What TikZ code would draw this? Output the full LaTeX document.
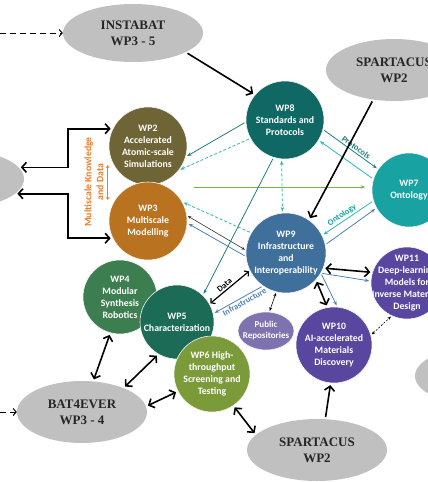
\documentclass[tikz,border=0pt]{standalone}
\usepackage{fontspec}
\newfontfamily\calibri{Carlito}
\newfontfamily\partnerfont{Liberation Serif}
\usetikzlibrary{shapes.geometric, arrows.meta, calc}
\definecolor{partnergray}{HTML}{C0C0C0}
\definecolor{wpii}{HTML}{6E6436}
\definecolor{wpiii}{HTML}{B9721F}
\definecolor{wpiv}{HTML}{3D7E50}
\definecolor{wpv}{HTML}{1C6B57}
\definecolor{wpvi}{HTML}{7B9B3B}
\definecolor{wpvii}{HTML}{18A2A2}
\definecolor{wpviii}{HTML}{0F6864}
\definecolor{wpix}{HTML}{3F6F9B}
\definecolor{wpx}{HTML}{58469F}
\definecolor{pubrep}{HTML}{7F73AF}
\definecolor{lineteal}{HTML}{217D7A}
\definecolor{lightteal}{HTML}{2DB5B3}
\definecolor{linegreen}{HTML}{78B440}
\definecolor{lineblue}{HTML}{4F80B5}
\definecolor{kdorange}{HTML}{EE7A22}
\begin{document}
\begin{tikzpicture}[x=1pt, y=-1pt,
    wp/.style={circle, fill=#1, draw=white!90!gray, line width=0.6pt, text=white, inner sep=-6pt,
        minimum size=78pt, align=center, font=\calibri\bfseries\fontsize{9.8}{12}\selectfont},
    partner/.style={ellipse, fill=partnergray, text=black!85, inner sep=0pt, align=center,
        font=\partnerfont\bfseries\fontsize{13}{16}\selectfont},
    lbl/.style={font=\calibri\bfseries\fontsize{8.5}{10}\selectfont, inner sep=1.5pt},
    bigarrow/.style={line width=1.6pt, -{Straight Barb[length=4.5pt,width=10pt]}, shorten <=2pt, shorten >=2pt},
    bigboth/.style={bigarrow, {Straight Barb[length=4.5pt,width=10pt]}-{Straight Barb[length=4.5pt,width=10pt]}},
    flow/.style={line width=0.8pt, -{Stealth[length=4.5pt,width=3.5pt]}, shorten <=1.5pt, shorten >=1.5pt},
    flowdash/.style={flow, dash pattern=on 3pt off 2pt},
    thinboth/.style={line width=0.6pt, {Stealth[length=3.5pt,width=3pt]}-{Stealth[length=3.5pt,width=3pt]}, shorten <=1pt, shorten >=1pt},
    feed/.style={line width=1pt, dash pattern=on 6pt off 4pt, -{Straight Barb[length=3pt,width=7pt]}}
]
    \useasboundingbox (0,0) rectangle (428,482);
    \clip (0,0) rectangle (428,482);

    \node[partner, minimum width=140pt, minimum height=58pt] (instabat) at (133,33) {INSTABAT\\WP3 - 5};
    \node[partner, minimum width=136pt, minimum height=62pt] (spartop) at (394,70) {SPARTACUS\\WP2};
    \node[partner, minimum width=120pt, minimum height=56pt] (leftpart) at (-36,179) {};
    \node[partner, minimum width=130pt, minimum height=62pt] (bat4ever) at (82,412) {BAT4EVER\\WP3 - 4};
    \node[partner, minimum width=140pt, minimum height=62pt] (spartbot) at (317,450) {SPARTACUS\\WP2};
    \node[partner, minimum width=120pt, minimum height=56pt] (rightpart) at (475,376) {};

    \node[wp=wpii] (wp2) at (148,146) {WP2\\Accelerated\\Atomic-scale\\Simulations};
    \node[wp=wpiii] (wp3) at (148,221) {WP3\\Multiscale\\Modelling};
    \node[wp=wpiv, minimum size=74pt] (wp4) at (120,297) {WP4\\Modular\\Synthesis\\Robotics};
    \node[wp=wpv, minimum size=74pt] (wp5) at (177,322) {WP5\\Characterization};
    \node[wp=wpvi, minimum size=76pt] (wp6) at (212,374) {WP6 High-\\throughput\\Screening and\\Testing};
    \node[wp=wpvii, minimum size=74pt] (wp7) at (409,190) {WP7\\Ontology};
    \node[wp=wpviii] (wp8) at (285,120) {WP8\\Standards and\\Protocols};
    \node[wp=wpix, minimum size=80pt] (wp9) at (286,253) {WP9\\Infrastructure\\and\\Interoperability};
    \node[wp=wpx, minimum size=76pt] (wp10) at (334,345) {WP10\\AI-accelerated\\Materials\\Discovery};
    \node[wp=wpx, minimum size=72pt, inner sep=-10pt] (wp11) at (407,283) {WP11\\Deep-learning\\Models for\\Inverse Materials\\Design};
    \node[ellipse, fill=pubrep, draw=white!90!gray, line width=0.6pt, text=white, inner sep=-5pt, align=center,
        minimum width=56pt, minimum height=38pt, font=\calibri\bfseries\fontsize{9}{11}\selectfont] (pubrep) at (266,331) {Public\\Repositories};

    \node[rotate=90, text=kdorange, align=center, font=\calibri\bfseries\fontsize{9.8}{12}\selectfont] (kdlabel) at (94,182) {Multiscale Knowledge\\and Data};
    \coordinate (kdbar) at (68,182);
    \coordinate (junction) at (192,187);
    \coordinate (instin) at (0,33);
    \coordinate (batin) at (0,412);

    \draw[feed] (instin) -- (instabat.west);
    \draw[feed] (batin) -- (bat4ever.west);

    \draw[bigboth] (leftpart.12) -- (leftpart.12 -| kdbar) |- (wp2.154);
    \draw[bigboth] (leftpart.-16) -- (leftpart.-16 -| kdbar) |- (wp3.206);
    \draw[kdorange, line width=1pt, {Stealth[length=3pt,width=3.5pt]}-{Stealth[length=3pt,width=3.5pt]}]
        ($(wp2.west)+(-1,19)$) -- ($(wp3.west)+(-1,-21)$);

    \draw[flow, lineteal] (wp8.183) -- (wp2.-16);
    \draw[flowdash, lightteal] (wp8.208) -- (wp2.-38);
    \draw[flow, linegreen, line width=1pt] (junction) -- ([xshift=-5pt]wp7.west |- junction);
    \draw[flowdash, lightteal] (wp9.150) -- (wp3.29);
    \draw[thinboth, black!80] (wp3.8) -- (wp9.176);
    \draw[flow, lineblue] (wp9.185) -- (wp3.-3);
    \draw[flowdash, lightteal, {Stealth[length=4.5pt,width=3.5pt]}-{Stealth[length=4.5pt,width=3.5pt]}] (wp8.265) -- (wp9.95);
    \draw[flow, lineteal] (wp8.253) -- (wp5.46);
    \draw[flow, lineteal] (wp8.-14) -- node[lbl, sloped, above, pos=0.55, text=lineteal] (protolbl) {Protocols} (wp7.146);
    \draw[flow, lightteal] (wp7.163) -- (wp8.-31);
    \draw[flow, lightteal] (wp7.197) -- node[lbl, sloped, above, pos=0.55, text=wpvii] (ontlbl) {Ontology} (wp9.26);
    \draw[flow, lineblue] (wp9.12) -- (wp7.209);
    \draw[line width=1.2pt, {Straight Barb[length=3pt,width=7pt]}-{Straight Barb[length=3pt,width=7pt]}, shorten <=1pt, shorten >=1pt]
        (wp9.206) -- node[lbl, sloped, above, pos=0.55] (datalbl) {Data} (wp5.29);
    \draw[flow, lineblue] (wp9.235) -- node[lbl, sloped, below, pos=0.42, text=lineblue] (infralbl) {Infrastructure} (wp5.13);
    \draw[thinboth] (wp9.256) -- (pubrep.80);
    \draw[flow, lineblue] (wp9.-30) -- (wp11.177);
    \draw[flow, lineblue] (wp9.-30) -- (wp10.85);
    \draw[thinboth, dash pattern=on 2pt off 1.5pt] (wp10.15) -- (wp11.245);

    \draw[bigarrow] (instabat.-20) -- (wp8.140);
    \draw[bigarrow] (spartop.-125) -- (wp9.55);
    \draw[bigarrow] (spartbot.75) -- (wp10.265);
    \draw[bigboth] (wp9.-22) -- (wp11.163);
    \draw[bigboth] (wp9.-42) -- (wp10.100);
    \draw[bigboth] (wp4.255) -- (bat4ever.70);
    \draw[bigboth] (wp5.240) -- (bat4ever.30);
    \draw[bigboth] (wp6.207) -- (bat4ever.5);
    \draw[bigboth] (wp6.-56) -- (spartbot.166);
\end{tikzpicture}
\end{document}
